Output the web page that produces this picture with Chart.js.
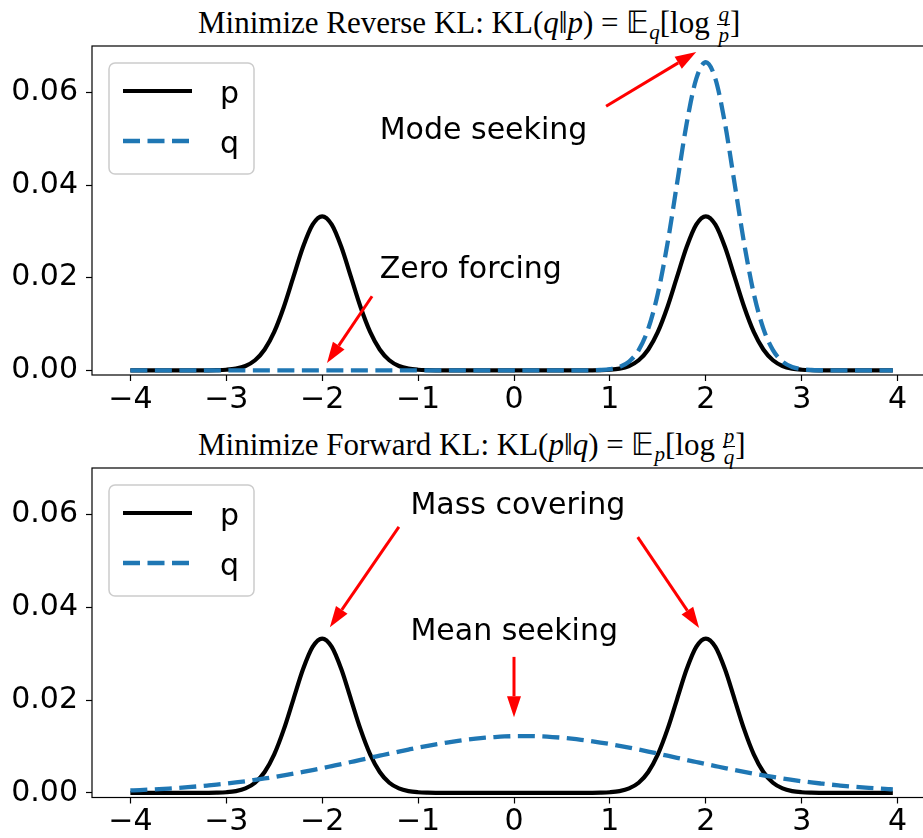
<!DOCTYPE html>
<html>
<head>
<meta charset="utf-8">
<script src="https://cdn.jsdelivr.net/npm/chart.js@4.4.1/dist/chart.umd.min.js"></script>
<style>
  html, body { margin: 0; padding: 0; background: #fff; overflow: hidden; }
  .wrap { position: relative; width: 923px; height: 838px; overflow: hidden; }
  canvas { position: absolute; left: 0; }
  .title { position: absolute; left: 198px; font-family: 'Liberation Serif', serif; font-size: 31px; line-height: 31px; white-space: nowrap; color: #000; }
  .title sub { font-size: 0.68em; vertical-align: -0.3em; line-height: 0; }
  .frac { display: inline-block; font-size: 0.68em; line-height: 0.95; text-align: center; vertical-align: -0.45em; font-style: italic; }
  .frac span { display: block; }
  .frac .num { border-bottom: 1px solid #000; padding: 0 1px; }
</style>
</head>
<body>
<div class="wrap">
  <div class="title" style="top:4px">Minimize Reverse KL: KL(<i>q</i>‖<i>p</i>) = 𝔼<sub><i>q</i></sub>[log <span class="frac"><span class="num">q</span><span>p</span></span>]</div>
  <canvas id="top" width="950" height="420" style="top:0"></canvas>
  <div class="title" style="top:426px">Minimize Forward KL: KL(<i>p</i>‖<i>q</i>) = 𝔼<sub><i>p</i></sub>[log <span class="frac"><span class="num">p</span><span>q</span></span>]</div>
  <canvas id="bottom" width="950" height="418" style="top:420px"></canvas>
</div>
<script>
// grid of x values (step 0.1, last point 3.95)
const xs = [
  -4.0, -3.9, -3.8, -3.7, -3.6, -3.5, -3.4, -3.3, -3.2, -3.1,
  -3.0, -2.9, -2.8, -2.7, -2.6, -2.5, -2.4, -2.3, -2.2, -2.1,
  -2.0, -1.9, -1.8, -1.7, -1.6, -1.5, -1.4, -1.3, -1.2, -1.1,
  -1.0, -0.9, -0.8, -0.7, -0.6, -0.5, -0.4, -0.3, -0.2, -0.1,
  0.0, 0.1, 0.2, 0.3, 0.4, 0.5, 0.6, 0.7, 0.8, 0.9,
  1.0, 1.1, 1.2, 1.3, 1.4, 1.5, 1.6, 1.7, 1.8, 1.9,
  2.0, 2.1, 2.2, 2.3, 2.4, 2.5, 2.6, 2.7, 2.8, 2.9,
  3.0, 3.1, 3.2, 3.3, 3.4, 3.5, 3.6, 3.7, 3.8, 3.9,
  3.95
];

// target p (bimodal)
const pVals = [
  0, 0, 0, 0, 0, 0, 0, 0, 0.00001, 0.00004,
  0.00013, 0.00037, 0.00095, 0.00218, 0.0045, 0.00829, 0.01367, 0.02016, 0.02662, 0.03145,
  0.03325, 0.03145, 0.02662, 0.02016, 0.01367, 0.00829, 0.0045, 0.00218, 0.00095, 0.00037,
  0.00013, 0.00004, 0.00001, 0, 0, 0, 0, 0, 0, 0,
  0, 0, 0, 0, 0, 0, 0, 0, 0.00001, 0.00004,
  0.00013, 0.00037, 0.00095, 0.00218, 0.0045, 0.00829, 0.01367, 0.02016, 0.02662, 0.03145,
  0.03325, 0.03145, 0.02662, 0.02016, 0.01367, 0.00829, 0.0045, 0.00218, 0.00095, 0.00037,
  0.00013, 0.00004, 0.00001, 0, 0, 0, 0, 0, 0, 0,
  0
];

// q after reverse KL (sits on one mode)
const qReverse = [
  0, 0, 0, 0, 0, 0, 0, 0, 0, 0,
  0, 0, 0, 0, 0, 0, 0, 0, 0, 0,
  0, 0, 0, 0, 0, 0, 0, 0, 0, 0,
  0, 0, 0, 0, 0, 0, 0, 0, 0, 0,
  0, 0, 0, 0, 0, 0, 0, 0, 0.00002, 0.00008,
  0.00026, 0.00074, 0.0019, 0.00437, 0.009, 0.01658, 0.02733, 0.04033, 0.05324, 0.0629,
  0.06649, 0.0629, 0.05324, 0.04033, 0.02733, 0.01658, 0.009, 0.00437, 0.0019, 0.00074,
  0.00026, 0.00008, 0.00002, 0, 0, 0, 0, 0, 0, 0,
  0
];

// q after forward KL (wide, between modes)
const qForward = [
  0.00052, 0.0006, 0.0007, 0.00081, 0.00093, 0.00107, 0.00122, 0.00139, 0.00158, 0.00178,
  0.00201, 0.00225, 0.00251, 0.0028, 0.0031, 0.00343, 0.00378, 0.00414, 0.00452, 0.00492,
  0.00534, 0.00577, 0.0062, 0.00665, 0.0071, 0.00756, 0.00801, 0.00846, 0.0089, 0.00933,
  0.00975, 0.01014, 0.01051, 0.01085, 0.01116, 0.01144, 0.01168, 0.01188, 0.01203, 0.01215,
  0.01222, 0.01224, 0.01222, 0.01215, 0.01203, 0.01188, 0.01168, 0.01144, 0.01116, 0.01085,
  0.01051, 0.01014, 0.00975, 0.00933, 0.0089, 0.00846, 0.00801, 0.00756, 0.0071, 0.00665,
  0.0062, 0.00577, 0.00534, 0.00492, 0.00452, 0.00414, 0.00378, 0.00343, 0.0031, 0.0028,
  0.00251, 0.00225, 0.00201, 0.00178, 0.00158, 0.00139, 0.00122, 0.00107, 0.00093, 0.00081,
  0.00075
];

const seriesNames = ['p', 'q'];

Chart.defaults.font.family = "'DejaVu Sans', sans-serif";
Chart.defaults.color = '#000';

// spines, red arrows, notes and the legend box
const decor = {
  id: 'decor',
  afterDatasetsDraw(chart, args, opts) {
    const { ctx, chartArea: a } = chart;
    const sx = chart.scales.x, sy = chart.scales.y;
    ctx.save();

    ctx.strokeStyle = '#000';
    ctx.lineWidth = 1.2;
    ctx.strokeRect(a.left, a.top, a.right - a.left, a.bottom - a.top);

    ctx.strokeStyle = 'red';
    ctx.fillStyle = 'red';
    opts.arrows.forEach(ar => {
      const x1 = sx.getPixelForValue(ar.from[0]), y1 = sy.getPixelForValue(ar.from[1]);
      const x2 = sx.getPixelForValue(ar.to[0]), y2 = sy.getPixelForValue(ar.to[1]);
      const ang = Math.atan2(y2 - y1, x2 - x1);
      const hl = 21, hw = 7;
      const bx = x2 - hl * Math.cos(ang), by = y2 - hl * Math.sin(ang);
      ctx.lineWidth = 3;
      ctx.beginPath();
      ctx.moveTo(x1, y1);
      ctx.lineTo(bx, by);
      ctx.stroke();
      ctx.beginPath();
      ctx.moveTo(x2, y2);
      ctx.lineTo(bx + hw * Math.sin(ang), by - hw * Math.cos(ang));
      ctx.lineTo(bx - hw * Math.sin(ang), by + hw * Math.cos(ang));
      ctx.closePath();
      ctx.fill();
    });

    ctx.fillStyle = '#000';
    ctx.font = "30px 'DejaVu Sans'";
    ctx.textAlign = 'left';
    ctx.textBaseline = 'alphabetic';
    opts.texts.forEach(t => {
      ctx.fillText(t.text, sx.getPixelForValue(t.at[0]), sy.getPixelForValue(t.at[1]));
    });

    // legend
    const lx = a.left + 17, ly = a.top + 17, lw = 145, lh = 111;
    ctx.beginPath();
    ctx.roundRect(lx, ly, lw, lh, 6);
    ctx.fillStyle = 'rgba(255,255,255,0.8)';
    ctx.fill();
    ctx.strokeStyle = '#cccccc';
    ctx.lineWidth = 1.5;
    ctx.stroke();
    chart.data.datasets.forEach((ds, i) => {
      const ry = ly + 28 + i * 50;
      ctx.strokeStyle = ds.borderColor;
      ctx.lineWidth = ds.borderWidth;
      ctx.setLineDash(ds.borderDash || []);
      ctx.beginPath();
      ctx.moveTo(lx + 14, ry);
      ctx.lineTo(lx + 83, ry);
      ctx.stroke();
      ctx.setLineDash([]);
      ctx.fillStyle = '#000';
      ctx.fillText(ds.label, lx + 111, ry + 12);
    });
    ctx.restore();
  }
};

function makeChart(id, qVals, notes, padTop, axisH) {
  const ctx = document.getElementById(id);
  return new Chart(ctx, {
    type: 'line',
    data: {
      datasets: [{
        label: seriesNames[0],
        data: xs.map((x, i) => ({ x, y: pVals[i] })),
        borderColor: '#000000',
        borderWidth: 4.2,
        pointRadius: 0,
        cubicInterpolationMode: 'monotone',
        order: 1,
      }, {
        label: seriesNames[1],
        data: xs.map((x, i) => ({ x, y: qVals[i] })),
        borderColor: '#1f77b4',
        borderWidth: 4.3,
        borderDash: [17, 7.5],
        pointRadius: 0,
        cubicInterpolationMode: 'monotone',
        order: 0,
      }]
    },
    options: {
      responsive: false,
      animation: false,
      devicePixelRatio: 1,
      layout: { padding: { top: padTop, right: 14, left: 0, bottom: 0 } },
      plugins: {
        legend: { display: false },
        tooltip: { enabled: false },
        decor: notes,
      },
      scales: {
        x: {
          type: 'linear',
          min: -4.4,
          max: 4.4,
          border: { display: false },
          grid: { display: true, drawOnChartArea: false, tickLength: 6, tickWidth: 1.2, tickColor: '#000' },
          ticks: {
            stepSize: 1,
            includeBounds: false,
            padding: 1,
            font: { size: 30 },
            color: '#000',
            callback: v => String(v).replace('-', '\u2212'),
          },
          afterFit(scale) { scale.height = axisH; },
        },
        y: {
          min: -0.001,
          max: 0.07,
          border: { display: false },
          grid: { display: true, drawOnChartArea: false, tickLength: 6, tickWidth: 1.2, tickColor: '#000' },
          ticks: {
            stepSize: 0.02,
            includeBounds: false,
            padding: 8,
            font: { size: 30 },
            color: '#000',
            callback: v => v.toFixed(2),
          },
          afterFit(scale) { scale.width = 92; },
        },
      },
    },
    plugins: [decor],
  });
}

makeChart('top', qReverse, {
  texts: [
    { text: 'Mode seeking', at: [-1.4, 0.05] },
    { text: 'Zero forcing', at: [-1.4, 0.02] },
  ],
  arrows: [
    { from: [0.96, 0.057], to: [1.9, 0.0687] },
    { from: [-1.48, 0.016], to: [-1.95, 0.0016] },
  ],
}, 46, 45);

makeChart('bottom', qForward, {
  texts: [
    { text: 'Mass covering', at: [-1.08, 0.06] },
    { text: 'Mean seeking', at: [-1.08, 0.033] },
  ],
  arrows: [
    { from: [-1.2, 0.0573], to: [-1.92, 0.0357] },
    { from: [1.29, 0.0551], to: [1.93, 0.0355] },
    { from: [0, 0.0293], to: [0, 0.0163] },
  ],
}, 48, 40.5);
</script>
</body>
</html>
